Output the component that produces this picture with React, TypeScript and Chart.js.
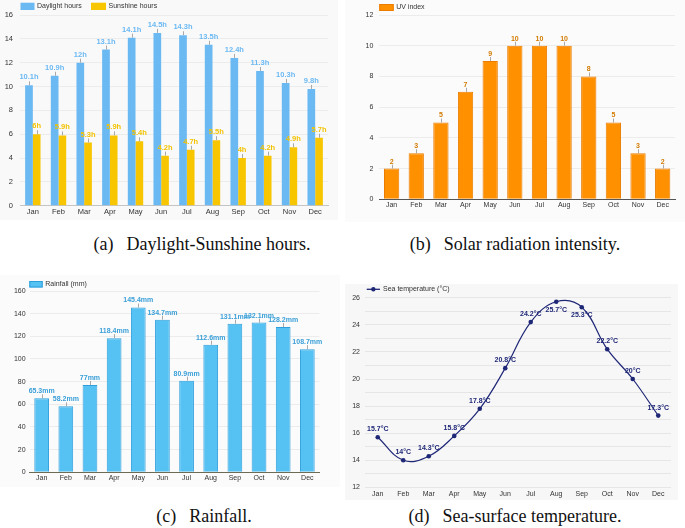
import React, { useEffect, useRef } from "react";
import { Chart, registerables } from "chart.js";

Chart.register(...registerables);

const months = ["Jan", "Feb", "Mar", "Apr", "May", "Jun", "Jul", "Aug", "Sep", "Oct", "Nov", "Dec"];
const daylightHours = [10.1, 10.9, 12, 13.1, 14.1, 14.5, 14.3, 13.5, 12.4, 11.3, 10.3, 9.8];
const sunshineHours = [6, 5.9, 5.3, 5.9, 5.4, 4.2, 4.7, 5.5, 4, 4.2, 4.9, 5.7];
const uvIndex = [2, 3, 5, 7, 9, 10, 10, 10, 8, 5, 3, 2];
const rainfallMm = [65.3, 58.2, 77, 118.4, 145.4, 134.7, 80.9, 112.6, 131.1, 132.1, 128.2, 108.7];
const seaTemperature = [15.7, 14, 14.3, 15.8, 17.8, 20.8, 24.2, 25.7, 25.3, 22.2, 20, 17.3];

const SANS = '"Liberation Sans", Arial, Helvetica, sans-serif';
Chart.defaults.font.family = SANS;

type LegendItem = { kind: "box" | "line"; fill: string; stroke?: string; text: string; x: number; y: number; w: number; h: number };

function legendPlugin(items: LegendItem[], fontSize: number) {
  return {
    id: "customLegend",
    afterDraw(chart: any) {
      const ctx = chart.ctx as CanvasRenderingContext2D;
      ctx.save();
      ctx.font = `${fontSize}px ${SANS}`;
      ctx.textBaseline = "middle";
      ctx.textAlign = "left";
      for (const it of items) {
        if (it.kind === "box") {
          ctx.fillStyle = it.fill;
          ctx.fillRect(it.x, it.y, it.w, it.h);
          if (it.stroke) {
            ctx.strokeStyle = it.stroke;
            ctx.lineWidth = 1;
            ctx.strokeRect(it.x + 0.5, it.y + 0.5, it.w - 1, it.h - 1);
          }
          ctx.fillStyle = "#333";
          ctx.fillText(it.text, it.x + it.w + 2.5, it.y + it.h / 2);
        } else {
          ctx.strokeStyle = it.fill;
          ctx.lineWidth = 1.3;
          ctx.beginPath();
          ctx.moveTo(it.x, it.y);
          ctx.lineTo(it.x + it.w, it.y);
          ctx.stroke();
          ctx.fillStyle = it.fill;
          ctx.beginPath();
          ctx.arc(it.x + it.w / 2, it.y, 2.2, 0, Math.PI * 2);
          ctx.fill();
          ctx.fillStyle = "#333";
          ctx.fillText(it.text, it.x + it.w + 3, it.y);
        }
      }
      ctx.restore();
    },
  };
}

type LabelSpec = { datasetIndex: number; color: string; format: (v: number) => string; leader: boolean; offset: number; flip?: boolean };

function valueLabelPlugin(specs: LabelSpec[], fontSize: number) {
  return {
    id: "valueLabels",
    afterDatasetsDraw(chart: any) {
      const ctx = chart.ctx as CanvasRenderingContext2D;
      ctx.save();
      ctx.font = `bold ${fontSize}px ${SANS}`;
      ctx.textAlign = "center";
      ctx.textBaseline = "middle";
      for (const s of specs) {
        const meta = chart.getDatasetMeta(s.datasetIndex);
        const data = chart.data.datasets[s.datasetIndex].data as number[];
        meta.data.forEach((el: any, i: number) => {
          const { x, y } = el.getProps(["x", "y"], true);
          let ty = y - s.offset;
          if (s.flip && ty - 5 < chart.chartArea.top) ty = y + s.offset;
          if (s.leader) {
            const lx = Math.round(x) + 0.5;
            ctx.strokeStyle = "#a8a8a8";
            ctx.lineWidth = 1;
            ctx.beginPath();
            ctx.moveTo(lx, y);
            ctx.lineTo(lx, y - 4);
            ctx.stroke();
          }
          ctx.fillStyle = s.color;
          ctx.fillText(s.format(data[i]), x, ty);
        });
      }
      ctx.restore();
    },
  };
}

function ChartBox(props: { left: number; top: number; width: number; height: number; bg: string; make: () => any }) {
  const ref = useRef<HTMLCanvasElement>(null);
  useEffect(() => {
    const chart = new Chart(ref.current as HTMLCanvasElement, props.make());
    return () => chart.destroy();
  }, []);
  return (
    <div style={{ position: "absolute", left: props.left, top: props.top, width: props.width, height: props.height, background: props.bg }}>
      <canvas ref={ref} width={props.width} height={props.height} style={{ width: props.width, height: props.height, display: "block" }} />
    </div>
  );
}

const evenOnly = (v: any) => (Number(v) % 2 === 0 ? String(v) : "");

function makeDaylight() {
  return {
    type: "bar",
    data: {
      labels: months,
      datasets: [
        { label: "Daylight hours", data: daylightHours, backgroundColor: "#6bb9f3", borderWidth: 0, categoryPercentage: 0.6, barPercentage: 1 },
        { label: "Sunshine hours", data: sunshineHours, backgroundColor: "#f7c600", borderWidth: 0, categoryPercentage: 0.6, barPercentage: 1 },
      ],
    },
    options: {
      responsive: false,
      animation: false,
      devicePixelRatio: 1,
      layout: { padding: { top: 15, left: 0, right: 10, bottom: 0 } },
      plugins: { legend: { display: false }, tooltip: { enabled: false } },
      scales: {
        x: {
          grid: { display: false, drawTicks: false },
          border: { color: "#c4c4c4" },
          ticks: { color: "#333", font: { size: 7.5 }, padding: 2 },
          afterFit: (s: any) => { s.height = 14.3; },
        },
        y: {
          min: 0,
          max: 16,
          ticks: { stepSize: 1, color: "#333", font: { size: 7.5 }, padding: 7, callback: evenOnly },
          grid: { color: "#ececec", drawTicks: false },
          border: { display: false },
          afterFit: (s: any) => { s.width = 20; },
        },
      },
    },
    plugins: [
      legendPlugin([
        { kind: "box", fill: "#6bb9f3", text: "Daylight hours", x: 20.5, y: 2.7, w: 14, h: 7.3 },
        { kind: "box", fill: "#f7c600", text: "Sunshine hours", x: 91, y: 2.7, w: 15, h: 7.3 },
      ], 7),
      valueLabelPlugin([
        { datasetIndex: 0, color: "#6bb9f3", format: (v) => `${v}h`, leader: true, offset: 8 },
        { datasetIndex: 1, color: "#f2c200", format: (v) => `${v}h`, leader: true, offset: 8 },
      ], 7.5),
    ],
  };
}

function makeUV() {
  return {
    type: "bar",
    data: {
      labels: months,
      datasets: [
        { label: "UV index", data: uvIndex, backgroundColor: "#ff9000", borderColor: "#ea7d00", borderWidth: 1, categoryPercentage: 0.62, barPercentage: 1 },
      ],
    },
    options: {
      responsive: false,
      animation: false,
      devicePixelRatio: 1,
      layout: { padding: { top: 15, left: 0, right: 10, bottom: 0 } },
      plugins: { legend: { display: false }, tooltip: { enabled: false } },
      scales: {
        x: {
          grid: { display: false, drawTicks: false },
          border: { color: "#555", width: 1 },
          ticks: { color: "#333", font: { size: 7 }, padding: 2 },
          afterFit: (s: any) => { s.height = 22.7; },
        },
        y: {
          min: 0,
          max: 12,
          ticks: { stepSize: 2, color: "#333", font: { size: 7 }, padding: 6 },
          grid: { color: "#ececec", drawTicks: false },
          border: { display: false },
          afterFit: (s: any) => { s.width = 34.3; },
        },
      },
    },
    plugins: [
      legendPlugin([{ kind: "box", fill: "#ff9000", stroke: "#ea7d00", text: "UV index", x: 34.3, y: 4, w: 14.4, h: 7 }], 7),
      valueLabelPlugin([{ datasetIndex: 0, color: "#d27b00", format: (v) => `${v}`, leader: true, offset: 7 }], 7),
    ],
  };
}

function makeRain() {
  return {
    type: "bar",
    data: {
      labels: months,
      datasets: [
        { label: "Rainfall (mm)", data: rainfallMm, backgroundColor: "#56c1f3", borderColor: "#2f9fdc", borderWidth: 1, categoryPercentage: 0.61, barPercentage: 1 },
      ],
    },
    options: {
      responsive: false,
      animation: false,
      devicePixelRatio: 1,
      layout: { padding: { top: 16, left: 0, right: 20.6, bottom: 0 } },
      plugins: { legend: { display: false }, tooltip: { enabled: false } },
      scales: {
        x: {
          grid: { display: false, drawTicks: false },
          border: { color: "#6d6b55", width: 1 },
          ticks: { color: "#333", font: { size: 7 }, padding: 2 },
          afterFit: (s: any) => { s.height = 14.7; },
        },
        y: {
          min: 0,
          max: 160,
          ticks: { stepSize: 20, color: "#333", font: { size: 7 }, padding: 4 },
          grid: { color: "#ececec", drawTicks: false },
          border: { display: false },
          afterFit: (s: any) => { s.width = 29.6; },
        },
      },
    },
    plugins: [
      legendPlugin([{ kind: "box", fill: "#56c1f3", stroke: "#2f9fdc", text: "Rainfall (mm)", x: 29.3, y: 6, w: 13.4, h: 6.5 }], 7),
      valueLabelPlugin([{ datasetIndex: 0, color: "#3a9fd8", format: (v) => `${v}mm`, leader: true, offset: 7 }], 7),
    ],
  };
}

function makeSea() {
  return {
    type: "line",
    data: {
      labels: months,
      datasets: [
        {
          label: "Sea temperature (°C)",
          data: seaTemperature,
          borderColor: "#1f2777",
          backgroundColor: "#1f2777",
          borderWidth: 1.2,
          tension: 0.4,
          pointRadius: 2.3,
          pointBackgroundColor: "#1f2777",
          pointBorderWidth: 0,
          fill: false,
        },
      ],
    },
    options: {
      responsive: false,
      animation: false,
      devicePixelRatio: 1,
      layout: { padding: { top: 13.7, left: 0, right: 7, bottom: 0 } },
      plugins: { legend: { display: false }, tooltip: { enabled: false } },
      scales: {
        x: {
          offset: true,
          grid: { display: false, drawTicks: false },
          border: { display: false },
          ticks: { color: "#333", font: { size: 7 }, padding: 2 },
          afterFit: (s: any) => { s.height = 12.6; },
        },
        y: {
          min: 12,
          max: 26,
          ticks: { stepSize: 1, color: "#333", font: { size: 7 }, padding: 5, callback: evenOnly },
          grid: { color: "#e6e6e6", drawTicks: false },
          border: { display: false },
          afterFit: (s: any) => { s.width = 20; },
        },
      },
    },
    plugins: [
      legendPlugin([{ kind: "line", fill: "#1f2777", text: "Sea temperature (°C)", x: 21.7, y: 5.3, w: 13.3, h: 0 }], 7),
      valueLabelPlugin([{ datasetIndex: 0, color: "#1f2777", format: (v) => `${v}°C`, leader: false, offset: 8, flip: true }], 7),
    ],
  };
}

function Caption(props: { cx: number; baseline: number; label: string; text: string }) {
  return (
    <div
      style={{
        position: "absolute",
        left: props.cx - 170,
        width: 340,
        top: props.baseline - 16.1,
        height: 20,
        lineHeight: "20px",
        textAlign: "center",
        fontFamily: '"Liberation Serif", "Times New Roman", serif',
        fontSize: 18,
        color: "#111",
        whiteSpace: "nowrap",
      }}
    >
      {props.label}
      <span style={{ marginLeft: 13 }}>{props.text}</span>
    </div>
  );
}

export default function App() {
  return (
    <div style={{ position: "fixed", left: 0, top: 0, width: 685, height: 528, background: "#fff", overflow: "hidden" }}>
      <ChartBox left={0} top={0} width={338} height={220} bg="#f9f9f9" make={makeDaylight} />
      <ChartBox left={345} top={0} width={340} height={222} bg="#fbfbfb" make={makeUV} />
      <ChartBox left={0} top={275} width={340} height={212} bg="#fbfbfb" make={makeRain} />
      <ChartBox left={345} top={284} width={333} height={216} bg="#f7f7f7" make={makeSea} />
      <Caption cx={202} baseline={250} label="(a)" text="Daylight-Sunshine hours." />
      <Caption cx={515} baseline={250} label="(b)" text="Solar radiation intensity." />
      <Caption cx={204} baseline={522} label="(c)" text="Rainfall." />
      <Caption cx={515} baseline={522} label="(d)" text="Sea-surface temperature." />
    </div>
  );
}
